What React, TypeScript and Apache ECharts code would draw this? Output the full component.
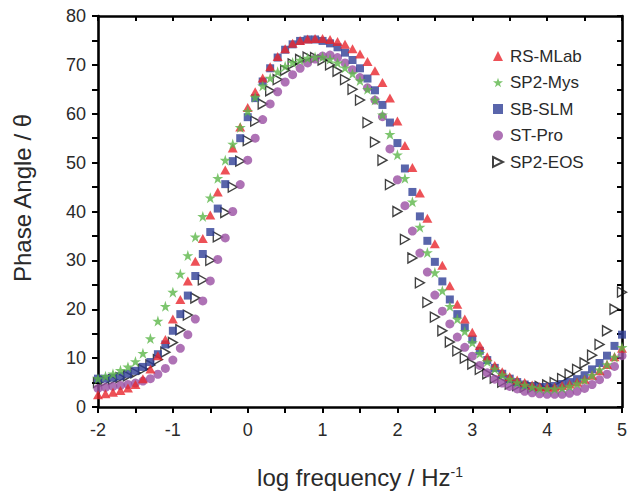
import React, { useEffect, useRef } from "react";
import * as echarts from "echarts";

const logF = [
  -2.0, -1.9, -1.8, -1.7, -1.6, -1.5, -1.4, -1.3, -1.2, -1.1,
  -1.0, -0.9, -0.8, -0.7, -0.6, -0.5, -0.4, -0.3, -0.2, -0.1,
  0.0, 0.1, 0.2, 0.3, 0.4, 0.5, 0.6, 0.7, 0.8, 0.9,
  1.0, 1.1, 1.2, 1.3, 1.4, 1.5, 1.6, 1.7, 1.8, 1.9,
  2.0, 2.1, 2.2, 2.3, 2.4, 2.5, 2.6, 2.7, 2.8, 2.9,
  3.0, 3.1, 3.2, 3.3, 3.4, 3.5, 3.6, 3.7, 3.8, 3.9,
  4.0, 4.1, 4.2, 4.3, 4.4, 4.5, 4.6, 4.7, 4.8, 4.9,
  5.0,
];

const rsMLab = [
  2.5, 2.7, 3.0, 3.4, 3.9, 4.6, 5.8, 7.8, 10.5, 13.8,
  18.0, 22.0, 25.8, 29.8, 34.5, 39.3, 44.0, 48.5, 53.0, 57.3,
  61.3, 64.5, 67.3, 69.6, 71.7, 73.3, 74.4, 75.0, 75.3, 75.4,
  75.4, 75.2, 74.8, 74.2, 73.3, 72.2, 70.7, 68.8, 66.4, 63.2,
  58.5, 53.5, 49.0, 43.8, 38.6, 33.4, 29.0, 24.8, 21.0, 18.0,
  15.3, 12.6, 10.3, 8.5, 7.2, 6.2, 5.5, 5.0, 4.5, 4.2,
  4.1, 4.1, 4.4, 4.7, 5.1, 5.7, 6.5, 7.4, 8.7, 10.3,
  12.0,
];

const sp2Mys = [
  5.8, 6.3, 6.8, 7.5, 8.2, 9.3, 11.0, 14.0, 17.6, 20.6,
  23.5, 27.2, 31.0, 34.8, 39.0, 42.8, 46.8, 50.5, 53.8, 57.2,
  60.5, 63.4, 65.7, 67.3, 68.6, 69.7, 70.5, 71.0, 71.4, 71.6,
  71.6, 71.2, 70.4, 69.4, 68.2, 66.8, 65.0, 62.8, 59.8, 55.8,
  51.6, 46.8, 42.0, 36.8, 31.6, 27.5, 23.8, 20.6, 18.0, 15.5,
  13.2, 11.0, 9.3, 7.8, 6.6, 5.7, 5.0, 4.5, 4.1, 3.8,
  3.7, 3.7, 3.9, 4.3, 4.8, 5.5, 6.5, 7.6, 8.7, 10.2,
  12.2,
];

const sbSLM = [
  5.8, 5.8, 6.0, 6.3, 6.8, 7.4, 8.2, 9.2, 10.8, 12.8,
  15.6, 19.0, 22.8, 26.8, 31.3, 35.8, 40.6, 45.6, 50.3, 55.0,
  59.3, 63.2, 66.6, 69.3, 71.5, 73.1, 74.2, 74.9, 75.2, 75.2,
  74.9, 74.4, 73.6, 72.5, 71.0, 69.3, 67.2, 64.8, 61.8, 58.2,
  54.0, 48.8, 44.0, 39.0, 34.0, 29.7, 25.7, 22.0, 19.0, 16.3,
  13.8, 11.5, 9.6, 8.0, 6.8, 5.8, 5.1, 4.6, 4.3, 4.1,
  4.1, 4.3, 4.7, 5.1, 5.7, 6.5, 7.7, 9.0, 10.5, 12.5,
  14.8,
];

const stPro = [
  3.8, 4.0, 4.2, 4.4, 4.6, 4.9, 5.3, 5.8, 6.7, 7.9,
  9.6, 12.0, 14.8, 18.0, 21.7, 25.8, 30.2, 34.6, 40.0, 45.5,
  50.5, 55.0, 58.8, 62.0, 64.5, 66.5, 68.0, 69.3, 70.4, 71.2,
  71.8, 72.0, 71.5, 70.4, 69.0, 67.4, 65.3, 62.8, 59.4, 52.8,
  46.5, 41.2, 36.0, 31.5, 27.6, 22.9, 19.6, 17.0, 14.3, 12.2,
  10.4, 8.5, 7.0, 5.7, 4.9, 4.2, 3.7, 3.2, 2.9, 2.7,
  2.6, 2.6, 2.6, 2.8, 3.2, 3.8, 4.6, 5.6, 6.7, 8.3,
  10.5,
];

const sp2EOS = [
  5.0, 5.3, 5.6, 6.0, 6.4, 7.0, 7.7, 8.6, 9.7, 11.2,
  13.2, 15.8, 18.8, 22.3, 26.0, 30.0, 34.8, 39.8, 45.0, 50.3,
  54.5, 58.5, 62.0, 64.7, 67.0, 68.9, 70.2, 71.1, 71.6, 71.5,
  71.0, 70.0, 68.7, 67.0, 65.0, 62.8, 58.2, 54.2, 50.5, 45.5,
  40.0, 34.3, 30.5, 25.4, 21.4, 18.4, 15.6, 13.3, 11.5, 10.0,
  8.8, 7.7, 6.8, 5.9, 5.1, 4.7, 4.4, 4.1, 4.0, 4.2,
  4.5, 5.0, 5.8, 6.7, 7.7, 9.0, 10.6, 12.8, 15.6, 20.0,
  23.5,
];

const legendOrder = ["RS-MLab", "SP2-Mys", "SB-SLM", "ST-Pro", "SP2-EOS"];

const FONT = "'Liberation Sans', Arial, sans-serif";
const TEXT = "#2a2a2a";

const pairs = (ys: number[]) => logF.map((x, i) => [x, ys[i]]);

export default function App() {
  const ref = useRef<HTMLDivElement>(null);
  useEffect(() => {
    document.body.style.margin = "0";
    const chart = echarts.init(ref.current!, null, { renderer: "svg" });
    const axisLine = { show: true, onZero: false, lineStyle: { color: "#000", width: 2.6 } };
    const tickStyle = { color: "#000", width: 2 };
    const xBase = {
      type: "value",
      min: -2,
      max: 5,
      interval: 1,
      axisLine,
      splitLine: { show: false },
      minorSplitLine: { show: false },
    };
    const yBase = {
      type: "value",
      min: 0,
      max: 80,
      interval: 10,
      axisLine,
      splitLine: { show: false },
      minorSplitLine: { show: false },
    };
    chart.setOption({
      animation: false,
      backgroundColor: "#fff",
      textStyle: { fontFamily: FONT },
      grid: { left: 98, right: 7, top: 16, bottom: 84, containLabel: false },
      legend: {
        orient: "vertical",
        left: 492,
        top: 47,
        padding: 0,
        itemWidth: 10,
        itemHeight: 10,
        itemGap: 8.5,
        data: legendOrder,
        textStyle: { fontSize: 17, color: TEXT, fontFamily: FONT, lineHeight: 18, padding: [0, 0, 0, 2] },
      },
      xAxis: [
        {
          ...xBase,
          position: "bottom",
          axisTick: { show: true, inside: false, length: 6, lineStyle: tickStyle },
          minorTick: { show: true, splitNumber: 2, length: 6, lineStyle: tickStyle },
          axisLabel: { fontSize: 18, margin: 14, color: TEXT, fontFamily: FONT },
          name: "log frequency / Hz{sup|-1}",
          nameLocation: "middle",
          nameGap: 58,
          nameTextStyle: {
            fontSize: 24,
            color: TEXT,
            fontFamily: FONT,
            rich: {
              sup: { fontSize: 14, color: TEXT, fontFamily: FONT, verticalAlign: "top", padding: [0, 0, 10, 0] },
            },
          },
        },
        {
          ...xBase,
          position: "top",
          axisTick: { show: true, inside: true, length: 5, lineStyle: tickStyle },
          minorTick: { show: true, splitNumber: 2, length: 5, lineStyle: tickStyle },
          axisLabel: { show: false },
        },
      ],
      yAxis: [
        {
          ...yBase,
          position: "left",
          axisTick: { show: true, inside: false, length: 6, lineStyle: tickStyle },
          minorTick: { show: true, splitNumber: 2, length: 6, lineStyle: tickStyle },
          axisLabel: { fontSize: 18, margin: 12, color: TEXT, fontFamily: FONT },
        },
        {
          ...yBase,
          position: "right",
          axisTick: { show: true, inside: true, length: 5, lineStyle: tickStyle },
          minorTick: { show: true, splitNumber: 2, length: 5, lineStyle: tickStyle },
          axisLabel: { show: false },
        },
      ],
      graphic: [
        {
          type: "text",
          x: 22,
          y: 198,
          rotation: Math.PI / 2,
          style: {
            text: "Phase Angle / θ",
            fontSize: 24,
            fontFamily: FONT,
            fill: TEXT,
            align: "center",
            verticalAlign: "middle",
          },
        },
      ],
      series: [
        {
          name: "SP2-EOS",
          type: "scatter",
          data: pairs(sp2EOS),
          symbol: "path://M0,0 L10,5 L0,10 Z",
          symbolSize: [9, 10],
          itemStyle: { color: "rgba(255,255,255,0)", borderColor: "#111", borderWidth: 1.4 },
          z: 2,
        },
        {
          name: "ST-Pro",
          type: "scatter",
          data: pairs(stPro),
          symbol: "circle",
          symbolSize: 9,
          itemStyle: { color: "#9a4fa3" },
          z: 3,
        },
        {
          name: "SB-SLM",
          type: "scatter",
          data: pairs(sbSLM),
          symbol: "rect",
          symbolSize: 8,
          itemStyle: { color: "#2f3f96" },
          z: 4,
        },
        {
          name: "RS-MLab",
          type: "scatter",
          data: pairs(rsMLab),
          symbol: "triangle",
          symbolSize: [10, 9],
          itemStyle: { color: "#e8262d" },
          z: 5,
        },
        {
          name: "SP2-Mys",
          type: "scatter",
          data: pairs(sp2Mys),
          symbol: "path://M50,0 L61.8,36.2 L100,36.2 L69.1,58.8 L80.9,95.1 L50,72.7 L19.1,95.1 L30.9,58.8 L0,36.2 L38.2,36.2 Z",
          symbolSize: 11,
          itemStyle: { color: "#5cb64a" },
          z: 6,
        },
      ],
    });
    return () => chart.dispose();
  }, []);
  return (
    <div
      ref={ref}
      style={{ position: "absolute", left: 0, top: 0, width: 630, height: 494 }}
    />
  );
}
